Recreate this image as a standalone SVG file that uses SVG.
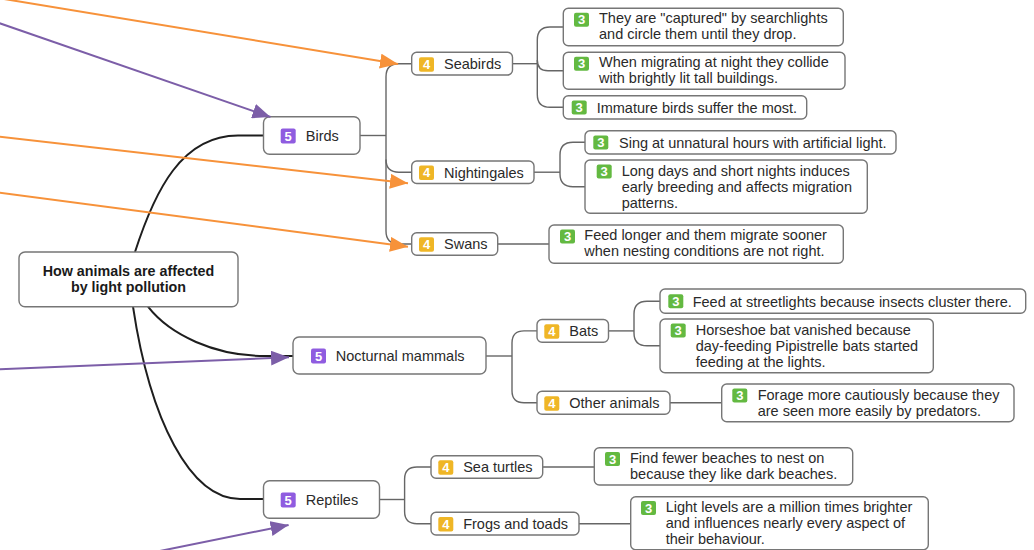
<svg xmlns="http://www.w3.org/2000/svg" width="1034" height="550" viewBox="0 0 1034 550">
<style>
.box{fill:#fff;stroke:#767676;stroke-width:1.4}
.t{font-family:"Liberation Sans",Arial,sans-serif;font-size:14.5px;fill:#2a2a2a}
.root{font-family:"Liberation Sans",Arial,sans-serif;font-size:14.3px;font-weight:bold;fill:#1a1a1a;text-anchor:middle}
.bd{font-family:"Liberation Sans",Arial,sans-serif;font-size:13px;font-weight:bold;fill:#fff;text-anchor:middle}
.b5{fill:#8f5ce0}
.b4{fill:#efb626}
.b3{fill:#63b941}
.gl{fill:none;stroke:#666;stroke-width:1.4}
.bl{fill:none;stroke:#1e1e1e;stroke-width:2}
.ro{fill:none;stroke:#f7923a;stroke-width:2}
.rp{fill:none;stroke:#7c5ea8;stroke-width:2}
</style>
<defs>
<marker id="ao" markerUnits="userSpaceOnUse" markerWidth="18" markerHeight="15" refX="18" refY="7.5" orient="auto"><path d="M0,0 L18,7.5 L0,15 z" fill="#f7923a"/></marker>
<marker id="ap" markerUnits="userSpaceOnUse" markerWidth="18" markerHeight="15" refX="18" refY="7.5" orient="auto"><path d="M0,0 L18,7.5 L0,15 z" fill="#7c5ea8"/></marker>
</defs>

<g id="connectors">
<path class="bl" d="M135,252 C155,190 182,135.5 238,135.5 L263.5,135.5"/>
<path class="bl" d="M148,306.7 C170,335 215,356 265,356 L293,356"/>
<path class="bl" d="M133,306.7 C150,420 190,499 240,499 L263.5,499"/>
<path class="gl" d="M360,135.5 H386"/>
<path class="gl" d="M411.7,63.7 H399 Q386,63.7 386,76.7 V231 Q386,244 399,244 H411.7"/>
<path class="gl" d="M386,159.5 Q386,172.2 399,172.2 H411.7"/>
<path class="gl" d="M512.5,63.7 H537.3"/>
<path class="gl" d="M563.3,27 H550 Q537.3,27 537.3,40 V94.5 Q537.3,107.3 550,107.3 H563.3"/>
<path class="gl" d="M537.3,60 Q537.3,70.8 548,70.8 H563.3"/>
<path class="gl" d="M534,172.2 H560"/>
<path class="gl" d="M585,142.3 H573 Q560,142.3 560,155 V174 Q560,186.7 573,186.7 H585"/>
<path class="gl" d="M497.7,244 H549"/>
<path class="gl" d="M486,356 H512"/>
<path class="gl" d="M537,330.9 H524 Q512,330.9 512,343 V390.7 Q512,402.7 524,402.7 H537"/>
<path class="gl" d="M608.5,330.9 H634"/>
<path class="gl" d="M660,301.2 H647 Q634,301.2 634,314 V333 Q634,345.8 647,345.8 H660"/>
<path class="gl" d="M670,402.7 H721.7"/>
<path class="gl" d="M379.5,499.5 H404.6"/>
<path class="gl" d="M431,467 H417 Q404.6,467 404.6,479 V511.5 Q404.6,523.7 417,523.7 H431"/>
<path class="gl" d="M542.7,467 H594.3"/>
<path class="gl" d="M579,523.7 H630.7"/>
</g>

<g id="root">
<rect class="box" x="19" y="252" width="219" height="54.7" rx="6"/>
<text class="root" x="128.5" y="276">How animals are affected</text>
<text class="root" x="128.5" y="292">by light pollution</text>
</g>

<g id="birds">
<rect class="box" x="263.5" y="116.7" width="96.5" height="37.5" rx="6"/>
<rect class="b5" x="280.7" y="128.5" width="15" height="15" rx="2"/><text class="bd" x="288.2" y="140.7">5</text>
<text class="t" x="305.8" y="141">Birds</text>
</g>
<g id="nocturnal-mammals">
<rect class="box" x="293" y="337" width="193" height="37" rx="6"/>
<rect class="b5" x="311" y="348.5" width="15" height="15" rx="2"/><text class="bd" x="318.5" y="360.7">5</text>
<text class="t" x="335.7" y="361">Nocturnal mammals</text>
</g>
<g id="reptiles">
<rect class="box" x="263.5" y="480.7" width="116" height="37.6" rx="6"/>
<rect class="b5" x="280.7" y="492.5" width="15" height="15" rx="2"/><text class="bd" x="288.2" y="504.7">5</text>
<text class="t" x="305.8" y="505">Reptiles</text>
</g>

<g id="seabirds">
<rect class="box" x="411.7" y="52.3" width="100.8" height="22.7" rx="5"/>
<rect class="b4" x="419" y="57.2" width="15" height="14.5" rx="2"/><text class="bd" x="426.5" y="69.1">4</text>
<text class="t" x="444" y="69">Seabirds</text>
</g>
<g id="nightingales">
<rect class="box" x="411.7" y="161" width="122.3" height="22.5" rx="5"/>
<rect class="b4" x="419" y="165.5" width="15" height="14.5" rx="2"/><text class="bd" x="426.5" y="177.4">4</text>
<text class="t" x="444" y="177.5">Nightingales</text>
</g>
<g id="swans">
<rect class="box" x="411.7" y="232.7" width="86" height="22.6" rx="5"/>
<rect class="b4" x="419" y="237.3" width="15" height="14.5" rx="2"/><text class="bd" x="426.5" y="249.2">4</text>
<text class="t" x="444" y="249.3">Swans</text>
</g>
<g id="bats">
<rect class="box" x="537" y="319.5" width="71.5" height="22.8" rx="5"/>
<rect class="b4" x="544.3" y="324.3" width="15" height="14.5" rx="2"/><text class="bd" x="551.8" y="336.2">4</text>
<text class="t" x="569.3" y="336.3">Bats</text>
</g>
<g id="other-animals">
<rect class="box" x="537" y="391.2" width="133" height="23" rx="5"/>
<rect class="b4" x="544.3" y="396.2" width="15" height="14.5" rx="2"/><text class="bd" x="551.8" y="408.1">4</text>
<text class="t" x="569.3" y="408.2">Other animals</text>
</g>
<g id="sea-turtles">
<rect class="box" x="431" y="455.7" width="111.7" height="22.6" rx="5"/>
<rect class="b4" x="438.3" y="460.3" width="15" height="14.5" rx="2"/><text class="bd" x="445.8" y="472.2">4</text>
<text class="t" x="463.2" y="472.3">Sea turtles</text>
</g>
<g id="frogs-and-toads">
<rect class="box" x="431" y="512.3" width="148" height="22.7" rx="5"/>
<rect class="b4" x="438.3" y="517" width="15" height="14.5" rx="2"/><text class="bd" x="445.8" y="528.9">4</text>
<text class="t" x="463.2" y="529">Frogs and toads</text>
</g>

<g id="captured">
<rect class="box" x="563.3" y="8.3" width="280" height="37.4" rx="5"/>
<rect class="b3" x="574" y="12.7" width="15" height="14" rx="2"/><text class="bd" x="581.5" y="24.4">3</text>
<text class="t" x="599" y="23">They are "captured" by searchlights</text>
<text class="t" x="599" y="39">and circle them until they drop.</text>
</g>
<g id="collide">
<rect class="box" x="563.3" y="52.3" width="281.7" height="37" rx="5"/>
<rect class="b3" x="574" y="56.7" width="15" height="14" rx="2"/><text class="bd" x="581.5" y="68.4">3</text>
<text class="t" x="599" y="67">When migrating at night they collide</text>
<text class="t" x="599" y="83">with brightly lit tall buildings.</text>
</g>
<g id="immature">
<rect class="box" x="563.3" y="95.7" width="243.4" height="23.3" rx="5"/>
<rect class="b3" x="571.7" y="100.5" width="15" height="14" rx="2"/><text class="bd" x="579.2" y="112.2">3</text>
<text class="t" x="596.7" y="112.5">Immature birds suffer the most.</text>
</g>
<g id="sing">
<rect class="box" x="585" y="130.7" width="311" height="23.3" rx="5"/>
<rect class="b3" x="593.3" y="135.5" width="15" height="14" rx="2"/><text class="bd" x="600.8" y="147.2">3</text>
<text class="t" x="619" y="147.5">Sing at unnatural hours with artificial light.</text>
</g>
<g id="long-days">
<rect class="box" x="585" y="160" width="282.3" height="53.3" rx="5"/>
<rect class="b3" x="596.7" y="164.4" width="15" height="14" rx="2"/><text class="bd" x="604.2" y="176.1">3</text>
<text class="t" x="621.7" y="175.5">Long days and short nights induces</text>
<text class="t" x="621.7" y="191.5">early breeding and affects migration</text>
<text class="t" x="621.7" y="207.5">patterns.</text>
</g>
<g id="feed-longer">
<rect class="box" x="549" y="225" width="294.3" height="38.3" rx="5"/>
<rect class="b3" x="560" y="229.4" width="15" height="14" rx="2"/><text class="bd" x="567.5" y="241.1">3</text>
<text class="t" x="584.3" y="240">Feed longer and them migrate sooner</text>
<text class="t" x="584.3" y="256">when nesting conditions are not right.</text>
</g>
<g id="streetlights">
<rect class="box" x="660" y="289" width="365.7" height="24.3" rx="5"/>
<rect class="b3" x="668.3" y="294.3" width="15" height="14" rx="2"/><text class="bd" x="675.8" y="306">3</text>
<text class="t" x="692.7" y="306.5">Feed at streetlights because insects cluster there.</text>
</g>
<g id="horseshoe">
<rect class="box" x="660" y="319" width="273.3" height="53.7" rx="5"/>
<rect class="b3" x="670.7" y="323.4" width="15" height="14" rx="2"/><text class="bd" x="678.2" y="335.1">3</text>
<text class="t" x="695.7" y="334.5">Horseshoe bat vanished because</text>
<text class="t" x="695.7" y="350.5">day-feeding Pipistrelle bats started</text>
<text class="t" x="695.7" y="366.5">feeding at the lights.</text>
</g>
<g id="forage">
<rect class="box" x="721.7" y="384" width="292.3" height="37.7" rx="5"/>
<rect class="b3" x="732.3" y="388.4" width="15" height="14" rx="2"/><text class="bd" x="739.8" y="400.1">3</text>
<text class="t" x="757.7" y="399.5">Forage more cautiously because they</text>
<text class="t" x="757.7" y="415.5">are seen more easily by predators.</text>
</g>
<g id="beaches">
<rect class="box" x="594.3" y="447.7" width="258.4" height="37.3" rx="5"/>
<rect class="b3" x="605" y="451.9" width="15" height="14" rx="2"/><text class="bd" x="612.5" y="463.6">3</text>
<text class="t" x="630" y="463">Find fewer beaches to nest on</text>
<text class="t" x="630" y="479">because they like dark beaches.</text>
</g>
<g id="light-levels">
<rect class="box" x="630.7" y="496.7" width="297.6" height="53" rx="5"/>
<rect class="b3" x="641" y="500.9" width="15" height="14" rx="2"/><text class="bd" x="648.5" y="512.6">3</text>
<text class="t" x="665.7" y="512">Light levels are a million times brighter</text>
<text class="t" x="665.7" y="528">and influences nearly every aspect of</text>
<text class="t" x="665.7" y="544">their behaviour.</text>
</g>

<g id="relationships">
<path class="ro" d="M-5,-2.5 L398,64" marker-end="url(#ao)"/>
<path class="rp" d="M-5,21.6 L270.5,117" marker-end="url(#ap)"/>
<path class="ro" d="M-5,136.1 L408,183.3" marker-end="url(#ao)"/>
<path class="ro" d="M-5,192 L408,246.7" marker-end="url(#ao)"/>
<path class="rp" d="M-5,369.5 L289,357.3" marker-end="url(#ap)"/>
<path class="rp" d="M140,555 L288.6,525" marker-end="url(#ap)"/>
</g>
</svg>
